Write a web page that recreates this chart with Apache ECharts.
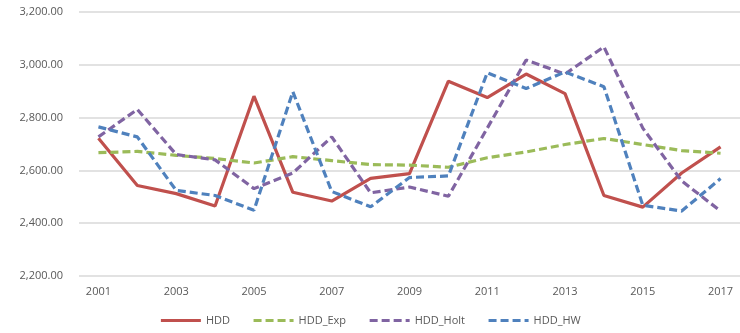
<!DOCTYPE html>
<html>
<head>
<meta charset="utf-8">
<script src="https://cdn.jsdelivr.net/npm/echarts@6/dist/echarts.min.js"></script>
<style>
  html, body { margin: 0; padding: 0; background: #fff; }
  #main { width: 740px; height: 333px; }
</style>
</head>
<body>
<div id="main"></div>
<script>
var years = ['2001','2002','2003','2004','2005','2006','2007','2008','2009','2010','2011','2012','2013','2014','2015','2016','2017'];
var hdd     = [2722, 2543, 2512, 2465, 2881, 2517, 2484, 2570, 2588, 2938, 2876, 2965, 2891, 2505, 2461, 2590, 2689];
var hddExp  = [2667, 2672, 2657, 2645, 2628, 2652, 2637, 2622, 2620, 2612, 2648, 2670, 2698, 2721, 2698, 2675, 2665];
var hddHolt = [2727, 2831, 2660, 2640, 2531, 2590, 2727, 2515, 2537, 2502, 2760, 3018, 2965, 3068, 2760, 2560, 2446];
var hddHW   = [2765, 2727, 2524, 2505, 2449, 2898, 2520, 2462, 2573, 2579, 2970, 2910, 2973, 2917, 2468, 2446, 2569];

var chart = echarts.init(document.getElementById('main'));

function line(name, data, color, dashed) {
    return {
        name: name,
        type: 'line',
        data: data,
        symbol: 'none',
        lineStyle: { color: color, width: 3.2, type: dashed ? [8, 4] : 'solid' },
        itemStyle: { color: color }
    };
}

var option = {
    animation: false,
    textStyle: { fontFamily: 'Open Sans, sans-serif' },
    grid: { left: 79, top: 12, width: 666, height: 264 },
    legend: {
        bottom: 2,
        left: 'center',
        itemWidth: 40,
        itemHeight: 10,
        itemGap: 22,
        itemStyle: { opacity: 0 },
        lineStyle: { width: 3.2 },
        textStyle: { color: '#595959', fontSize: 11 },
        data: ['HDD', 'HDD_Exp', 'HDD_Holt', 'HDD_HW']
    },
    xAxis: {
        type: 'category',
        data: years,
        boundaryGap: true,
        axisLine: { show: false },
        axisTick: { show: false },
        axisLabel: { color: '#595959', fontSize: 11, interval: 1, margin: 10 }
    },
    yAxis: {
        type: 'value',
        min: 2200,
        max: 3200,
        interval: 200,
        axisLine: { show: false },
        axisTick: { show: false },
        splitLine: { lineStyle: { color: '#d9d9d9', width: 1.5 } },
        axisLabel: {
            color: '#595959',
            fontSize: 11,
            margin: 16,
            formatter: function (v) {
                return v.toLocaleString('en-US', { minimumFractionDigits: 2, maximumFractionDigits: 2 });
            }
        }
    },
    series: [
        line('HDD', hdd, '#C0504D', false),
        line('HDD_Exp', hddExp, '#9BBB59', true),
        line('HDD_Holt', hddHolt, '#8064A2', true),
        line('HDD_HW', hddHW, '#4F81BD', true)
    ]
};
chart.setOption(option);
</script>
</body>
</html>
